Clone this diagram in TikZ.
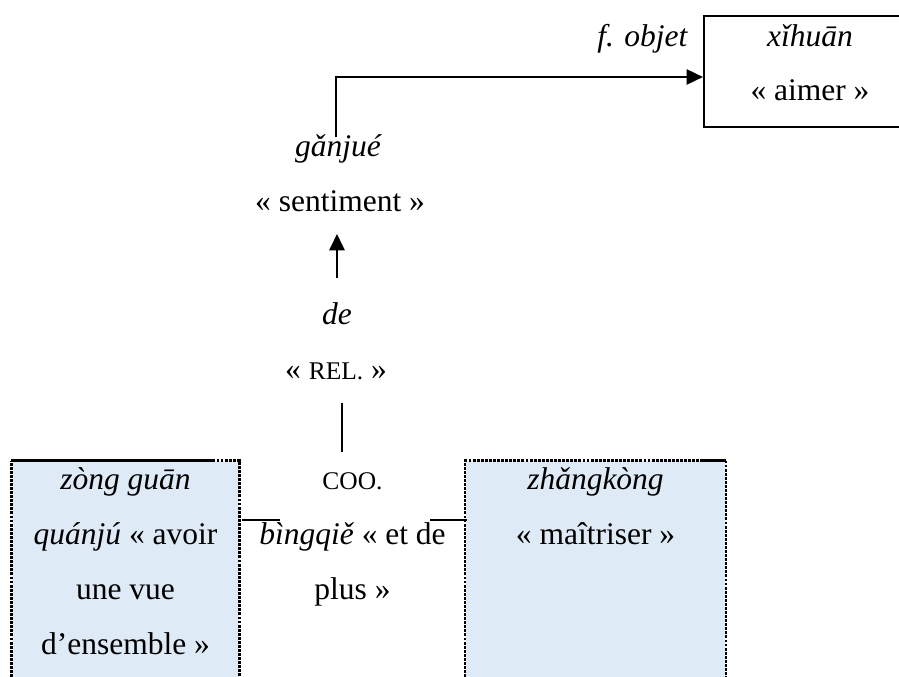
\documentclass[tikz,border=0pt]{standalone}
\usepackage{fontspec}
\setmainfont{Liberation Serif}
\usetikzlibrary{arrows.meta,positioning}
\definecolor{cellblue}{RGB}{222,234,246}
\newcommand{\petitcap}[1]{{\fontsize{9.7}{21}\selectfont #1}}

\begin{document}
\begin{tikzpicture}[x=0.381pt, y=-0.381pt,
    fr/.style={font=\fontsize{12}{21}\selectfont, inner sep=0pt, anchor=base},
    py/.style={font=\fontsize{12}{21}\selectfont\itshape, inner sep=0pt, anchor=base},
    cell/.style={fill=cellblue, draw=none, inner sep=0pt, minimum height=91.4pt},
    link/.style={line width=0.75pt},
    arrow/.style={link, -{Triangle[length=6.2pt, width=5.8pt]}},
    edge dash/.style={line width=0.8pt, dash pattern=on 1.1pt off 0.45pt},
    edge solid/.style={line width=1.1pt}
]
\useasboundingbox (0,0) rectangle (899,677);

% ============================================
% VERB (top right)
% ============================================
\node[draw, line width=0.8pt, minimum width=80.8pt, minimum height=42.3pt, inner sep=0pt] (xihuanbox) at (810,71.5) {};
\node[py] (xihuan) at (810,47) {xǐhuān};
\node[fr] (aimer) at (810,101) {«~aimer~»};
\node[py, anchor=base east] (fobjet) at (688,47) {f. objet};

% ============================================
% OBJECT HEAD + RELATIVE MARKER
% ============================================
\node[py] (ganjue) at (338,157) {gǎnjué};
\node[fr] (sentiment) at (340,212) {«~sentiment~»};
\node[py] (de) at (337,325) {de};
\node[fr] (rel) at (336,380) {«~\petitcap{REL.}~»};

% ============================================
% COORDINATION ROW (table cells)
% ============================================
\node[cell, minimum width=86.5pt] (leftcell) at (125.5,581) {};
\node[cell, minimum width=98.7pt] (rightcell) at (595.5,581) {};

% cell borders
\draw[edge dash] (leftcell.south west) -- (leftcell.north west);
\draw[edge solid] (leftcell.north west) -- ++(201,0);
\draw[edge dash] (leftcell.north west) ++(201,0) -- (leftcell.north east) -- (leftcell.south east);
\draw[edge dash] (rightcell.south west) -- (rightcell.north west) -- ++(236,0);
\draw[edge solid] (rightcell.north west) ++(236,0) -- (rightcell.north east);
\draw[edge dash] (rightcell.north east) -- (rightcell.south east);
\draw[link] (242,520) -- (280,520);
\draw[link] (430,520) -- (467,520);

\node[py] (zong) at (125.5,490) {zòng guān};
\node[fr] (quanju) at (125.5,545) {\textit{quánjú} «~avoir};
\node[fr] (unevue) at (125.5,600) {une vue};
\node[fr] (ensemble) at (125.5,655) {d’ensemble~»};

\node[fr] (coo) at (352.5,490) {\petitcap{COO.}};
\node[fr] (bingqie) at (352.5,545) {\textit{bìngqiě} «~et de};
\node[fr] (plus) at (352.5,600) {plus~»};

\node[py] (zhangkong) at (595.5,490) {zhǎngkòng};
\node[fr] (maitriser) at (595.5,545) {«~maîtriser~»};

% ============================================
% CONNECTORS
% ============================================
\coordinate (ganjueTop) at (336,137);
\coordinate (objIn) at (xihuanbox.west |- 0,77);
\draw[arrow] (ganjueTop) |- (objIn);

\coordinate (deUp) at (337,278);
\coordinate (sentDown) at (337,234);
\draw[arrow] (deUp) -- (sentDown);

\coordinate (relLow) at (342,403);
\coordinate (cooHigh) at (342,452);
\draw[link] (relLow) -- (cooHigh);

\end{tikzpicture}
\end{document}
